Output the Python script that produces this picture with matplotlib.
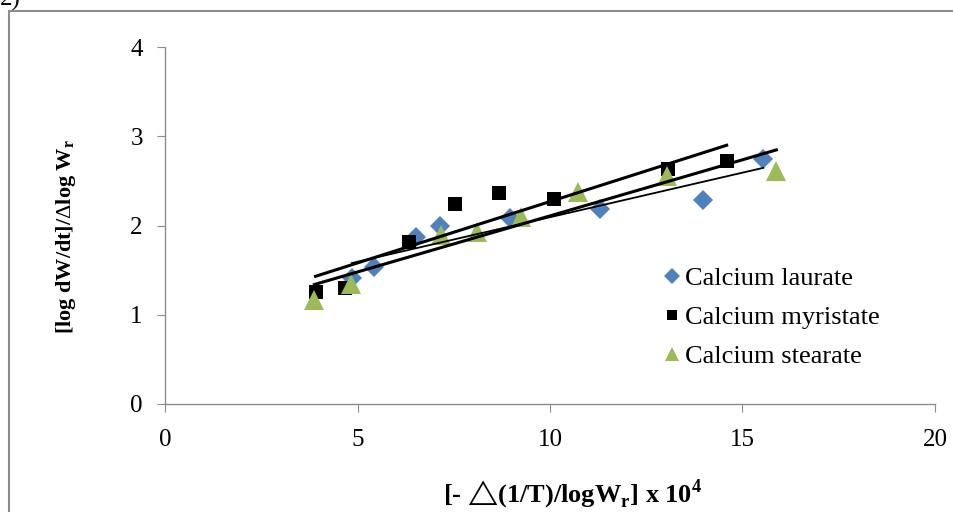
import numpy as np
import matplotlib.pyplot as plt
from matplotlib.lines import Line2D
from matplotlib.patches import Rectangle

# data
laurate_x = [4.85, 5.44, 6.52, 7.14, 8.96, 11.3, 13.98, 15.54]
laurate_y = [1.41, 1.54, 1.87, 1.99, 2.08, 2.19, 2.29, 2.75]
myristate_x = [3.91, 4.68, 6.34, 7.53, 8.68, 10.1, 13.06, 14.59]
myristate_y = [1.26, 1.30, 1.81, 2.24, 2.36, 2.30, 2.63, 2.72]
stearate_x = [3.88, 4.83, 7.18, 8.1, 9.25, 10.72, 13.03, 15.88]
stearate_y = [1.17, 1.34, 1.89, 1.93, 2.10, 2.38, 2.55, 2.61]
names = ['Calcium laurate', 'Calcium myristate', 'Calcium stearate']

serif = ['Liberation Serif', 'DejaVu Serif']
plt.rcParams['font.family'] = serif
plt.rcParams['mathtext.fontset'] = 'custom'
plt.rcParams['mathtext.rm'] = 'Liberation Serif'
plt.rcParams['mathtext.bf'] = 'Liberation Serif:bold'
plt.rcParams['mathtext.fallback'] = 'stix'

fig = plt.figure(figsize=(9.54, 5.12), dpi=100)
ax = fig.add_axes([0.173, 0.211, 0.807, 0.697])

gray = '#8c8c8c'
series = [
    (laurate_x, laurate_y, 'D', '#4F81BD', 10.5, 1.3),
    (myristate_x, myristate_y, 's', 'black', 10, 2.2),
    (stearate_x, stearate_y, '^', '#9BBB59', 14, 2.2),
]
for x, y, m, c, ms, lw in series:
    ax.plot(x, y, m, color=c, markersize=ms, markeredgewidth=0, zorder=3)
    k, b = np.polyfit(x, y, 1)
    xx = np.array([min(x), max(x)])
    ax.plot(xx, k * xx + b, color='black', lw=lw, zorder=4)

ax.set_xlim(0, 20)
ax.set_ylim(0, 4)
ax.set_xticks([0, 5, 10, 15, 20])
ax.set_yticks([0, 1, 2, 3, 4])
for s in ['top', 'right']:
    ax.spines[s].set_visible(False)
for s in ['left', 'bottom']:
    ax.spines[s].set_color(gray)
    ax.spines[s].set_linewidth(1)
ax.tick_params(direction='out', length=6, color=gray, labelsize=18, pad=12)
ax.tick_params(axis='y', pad=10)

ax.set_xlabel('[- $\\mathrm{\u25b3}$(1/T)/logW$_{\\mathbf{r}}$] x 10$^{\\mathbf{4}}$',
              fontsize=19, fontweight='bold')
ax.xaxis.set_label_coords(0.53, -0.205)
ax.set_ylabel(r'[log dW/dt]/$\Delta$log W$_{\mathbf{r}}$',
              fontsize=16, fontweight='bold')
ax.yaxis.set_label_coords(-0.113, 0.47)

handles = [Line2D([], [], ls='', marker=m, color=c, markersize=ms * 0.75,
                  markeredgewidth=0) for _, _, m, c, ms, _ in series]
ax.legend(handles, names, loc='center left', bbox_to_anchor=(0.636, 0.243),
          frameon=False, fontsize=19, handlelength=0.55, handletextpad=0.2,
          labelspacing=0.58, borderaxespad=0)

fig.patches.append(Rectangle((9 / 954, -0.01), 1.0, 1 - 11 / 512 + 0.01,
                             transform=fig.transFigure, fill=False,
                             edgecolor=gray, lw=1.5))
fig.text(0.0, 1 - 6 / 512, '2)', fontsize=18, va='baseline', ha='left')

fig.savefig('out.png', dpi=100)
